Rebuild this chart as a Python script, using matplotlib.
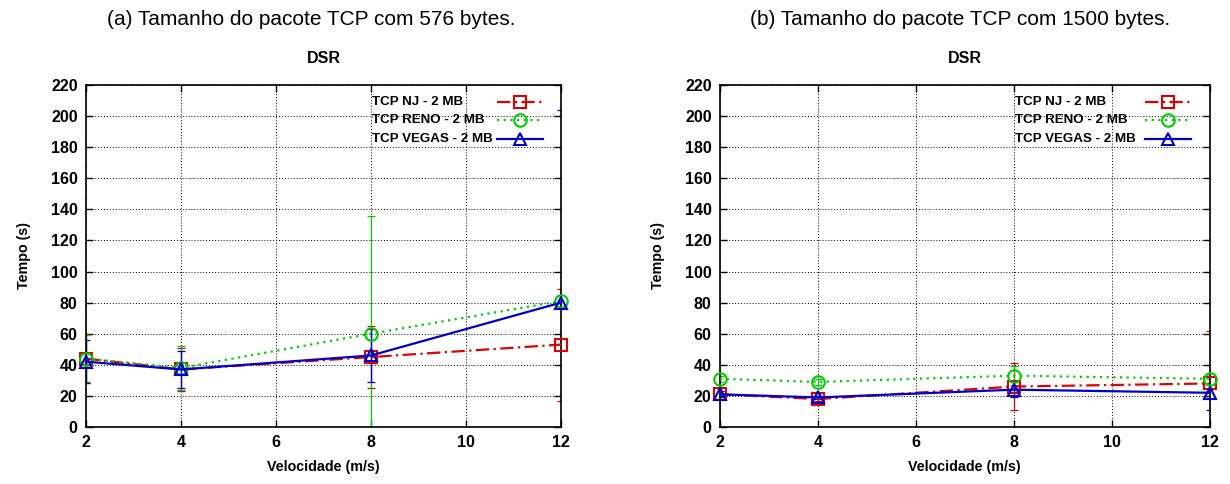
import matplotlib
matplotlib.use("Agg")
import matplotlib.pyplot as plt

plt.rcParams['font.family'] = ['Liberation Sans', 'DejaVu Sans']

speeds = [2, 4, 8, 12]
series_labels = ["TCP NJ - 2 MB", "TCP RENO - 2 MB", "TCP VEGAS - 2 MB"]

# tempo medio (s) e desvio, pacote de 576 bytes
nj_576 = [44, 37, 45, 53]
nj_576_err = [16, 14, 20, 36]
reno_576 = [44, 38, 60, 81]
reno_576_err = [15, 14, 76, 160]
vegas_576 = [42, 37, 46, 80]
vegas_576_err = [14, 12, 17, 124]

# pacote de 1500 bytes
nj_1500 = [21, 18, 26, 28]
nj_1500_err = [2, 1, 15, 34]
reno_1500 = [31, 29, 33, 31]
reno_1500_err = [2, 2, 6, 3]
vegas_1500 = [21, 19, 24, 22]
vegas_1500_err = [2, 1, 5, 11]

captions = ["(a) Tamanho do pacote TCP com 576 bytes.",
            "(b) Tamanho do pacote TCP com 1500 bytes."]
caption_x = [0.474, 0.491]

styles = [
    dict(color='#e00000', ls=(0, (6, 2, 1, 2)), marker='s'),
    dict(color='#00cc00', ls=(0, (1, 2)), marker='o'),
    dict(color='#0000cc', ls='-', marker='^'),
]

fig = plt.figure(figsize=(12.3, 4.84), dpi=100)
ax_a = fig.add_axes([0.0699, 0.1178, 0.3862, 0.7066])
ax_b = fig.add_axes([0.5854, 0.1178, 0.3980, 0.7066])

panels = [
    (ax_a, [(nj_576, nj_576_err), (reno_576, reno_576_err), (vegas_576, vegas_576_err)]),
    (ax_b, [(nj_1500, nj_1500_err), (reno_1500, reno_1500_err), (vegas_1500, vegas_1500_err)]),
]

legends = []
for i, (ax, data) in enumerate(panels):
    handles = []
    for (vals, errs), st in zip(data, styles):
        ax.errorbar(speeds, vals, yerr=errs, fmt='none', ecolor=st['color'],
                    elinewidth=0.9, capsize=3, capthick=0.9)
        ln, = ax.plot(speeds, vals, color=st['color'], ls=st['ls'], lw=1.6,
                      marker=st['marker'], ms=9, mfc='none', mew=1.5,
                      clip_on=False, zorder=4)
        handles.append(ln)
    ax.set_xlim(2, 12)
    ax.set_ylim(0, 220)
    ax.set_xticks([2, 4, 6, 8, 10, 12])
    ax.set_yticks(range(0, 221, 20))
    ax.grid(True, color='black', ls=(0, (1, 2)), lw=0.7)
    ax.tick_params(direction='in', top=True, right=True, length=5, width=1,
                   labelsize=11.5, pad=6)
    for t in ax.get_xticklabels() + ax.get_yticklabels():
        t.set_fontweight('bold')
    for sp in ax.spines.values():
        sp.set_linewidth(1.2)
    ax.set_xlabel("Velocidade (m/s)", fontsize=10.3, fontweight='bold', labelpad=7)
    ax.set_ylabel("Tempo (s)", fontsize=10.3, fontweight='bold', labelpad=14)
    ax.set_title("DSR", fontsize=11.5, fontweight='bold', pad=16)
    ax.text(caption_x[i], 1.0 + 65 / 342, captions[i], transform=ax.transAxes,
            ha='center', va='center', fontsize=15)
    # line samples only; the labels are written left-aligned next to them
    leg = ax.legend(handles, [''] * 3, loc='upper right', bbox_to_anchor=(0.962, 0.969),
                    frameon=False, fontsize=10, handlelength=3.3, handletextpad=0,
                    labelspacing=0.32, borderaxespad=0, borderpad=0)
    legends.append((ax, leg))

fig.canvas.draw()
renderer = fig.canvas.get_renderer()
for ax, leg in legends:
    inv = ax.transAxes.inverted()
    for h, lab in zip(leg.legend_handles, series_labels):
        bb = h.get_window_extent(renderer)
        y = inv.transform((0, (bb.y0 + bb.y1) / 2))[1]
        ax.text(0.603, y, lab, transform=ax.transAxes, ha='left', va='center',
                fontsize=9.6, fontweight='bold')

fig.savefig("out.png", dpi=100)
